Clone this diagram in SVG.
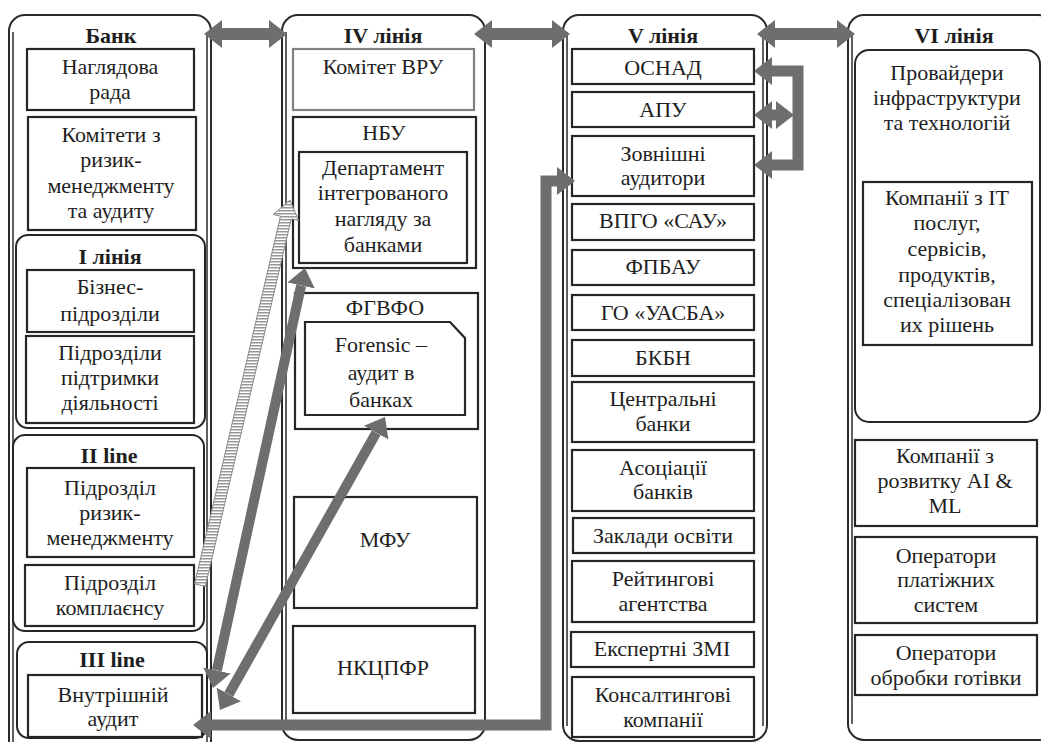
<svg xmlns="http://www.w3.org/2000/svg" width="1041" height="742" viewBox="0 0 1041 742">
<style>
.col{fill:#fff;stroke:#2a2a2a;stroke-width:2}
.dl{stroke:#2a2a2a;stroke-width:1.5}
.box{fill:#fff;stroke:#262626;stroke-width:2.2}
.grp{fill:#fff;stroke:#262626;stroke-width:2}
.t{font-family:"Liberation Serif","Times New Roman",serif;font-size:22px;fill:#1e1e1e;text-anchor:middle}
.b{font-weight:bold}
.ar{fill:none;stroke:#6e6e6e;marker-start:url(#ah);marker-end:url(#ah)}
</style>
<defs>
<marker id="ah" markerUnits="userSpaceOnUse" viewBox="0 0 18 28" markerWidth="18" markerHeight="28" refX="0" refY="14" orient="auto-start-reverse">
<path d="M0,0 L18,14 L0,28 z" fill="#6e6e6e"/>
</marker>
<pattern id="hatch" width="6" height="3" patternUnits="userSpaceOnUse">
<rect width="6" height="3" fill="#fff"/>
<rect width="6" height="1.5" fill="#979797"/>
</pattern>
</defs>
<rect width="1041" height="742" fill="#fff"/>

<g id="col-bank">
<rect class="col" x="9" y="15" width="202" height="760" rx="16"/>
<line class="dl" x1="13" y1="32" x2="13" y2="742"/>
<line class="dl" x1="207" y1="32" x2="207" y2="742"/>
<text class="t b" x="111" y="43">Банк</text>
</g>
<g id="n-naglyad">
<rect class="box" x="27" y="49" width="167" height="61"/>
<text class="t" x="110" y="74">Наглядова</text>
<text class="t" x="110" y="99">рада</text>
</g>
<g id="n-komitety">
<rect class="box" x="28" y="117" width="168" height="113"/>
<text class="t" x="111" y="142">Комітети з</text>
<text class="t" x="111" y="167">ризик-</text>
<text class="t" x="111" y="193">менеджменту</text>
<text class="t" x="111" y="218">та аудиту</text>
</g>
<g id="g-line1">
<rect class="grp" x="16" y="235" width="189" height="193" rx="12"/>
<text class="t b" x="110" y="264">І лінія</text>
</g>
<g id="n-biznes">
<rect class="box" x="27" y="270" width="167" height="62"/>
<text class="t" x="110" y="294">Бізнес-</text>
<text class="t" x="110" y="321">підрозділи</text>
</g>
<g id="n-pidtrymka">
<rect class="box" x="26" y="336" width="168" height="87"/>
<text class="t" x="110" y="360">Підрозділи</text>
<text class="t" x="110" y="385">підтримки</text>
<text class="t" x="110" y="410">діяльності</text>
</g>
<g id="g-line2">
<rect class="grp" x="13" y="435" width="191" height="196" rx="12"/>
<text class="t b" x="109" y="463">II line</text>
</g>
<g id="n-ryzyk">
<rect class="box" x="27" y="468" width="167" height="89"/>
<text class="t" x="110" y="495">Підрозділ</text>
<text class="t" x="110" y="520">ризик-</text>
<text class="t" x="110" y="545">менеджменту</text>
</g>
<g id="n-compliance">
<rect class="box" x="25" y="565" width="169" height="61"/>
<text class="t" x="110" y="590">Підрозділ</text>
<text class="t" x="110" y="615">комплаєнсу</text>
</g>
<g id="g-line3">
<rect class="grp" x="17" y="642" width="190" height="96" rx="12"/>
<text class="t b" x="112" y="667">III line</text>
</g>
<g id="n-audit">
<rect class="box" x="28" y="675" width="174" height="62"/>
<text class="t" x="113" y="702">Внутрішній</text>
<text class="t" x="113" y="726">аудит</text>
</g>

<g id="col-iv">
<rect class="col" x="282" y="15" width="203" height="725" rx="16"/>
<line class="dl" x1="286" y1="32" x2="286" y2="724"/>
<text class="t b" x="383" y="43">IV лінія</text>
</g>
<g id="n-vru">
<rect class="box" x="293" y="49" width="181" height="61" style="stroke:#808080"/>
<text class="t" x="383" y="74">Комітет ВРУ</text>
</g>
<g id="n-nbu">
<rect class="box" x="293" y="117" width="183" height="151"/>
<text class="t" x="384" y="140">НБУ</text>
</g>
<g id="n-dept">
<rect class="box" x="299" y="152" width="168" height="111"/>
<text class="t" x="383" y="175">Департамент</text>
<text class="t" x="383" y="200">інтегрованого</text>
<text class="t" x="383" y="226">нагляду за</text>
<text class="t" x="383" y="252">банками</text>
</g>
<g id="n-fgvfo">
<rect class="box" x="295" y="293" width="183" height="136"/>
<text class="t" x="385" y="315">ФГВФО</text>
</g>
<g id="n-forensic">
<path class="box" d="M305,322 H450 L465,338 V415 H305 Z"/>
<text class="t" x="381" y="352">Forensic –</text>
<text class="t" x="381" y="380">аудит в</text>
<text class="t" x="381" y="407">банках</text>
</g>
<g id="n-mfu">
<rect class="box" x="294" y="497" width="183" height="111"/>
<text class="t" x="385" y="547">МФУ</text>
</g>
<g id="n-nkcpfr">
<rect class="box" x="293" y="626" width="182" height="87"/>
<text class="t" x="383" y="675">НКЦПФР</text>
</g>

<g id="col-v">
<rect class="col" x="563" y="15" width="204" height="726" rx="16"/>
<line class="dl" x1="567" y1="32" x2="567" y2="726"/>
<line class="dl" x1="763" y1="32" x2="763" y2="726"/>
<text class="t b" x="663" y="43">V лінія</text>
</g>
<g id="n-osnad"><rect class="box" x="572" y="49" width="182" height="35"/><text class="t" x="663" y="75">ОСНАД</text></g>
<g id="n-apu"><rect class="box" x="572" y="92" width="182" height="35"/><text class="t" x="663" y="117">АПУ</text></g>
<g id="n-zovn"><rect class="box" x="572" y="136" width="182" height="60"/><text class="t" x="663" y="161">Зовнішні</text><text class="t" x="663" y="185">аудитори</text></g>
<g id="n-vpgo"><rect class="box" x="572" y="204" width="182" height="36"/><text class="t" x="663" y="228">ВПГО «САУ»</text></g>
<g id="n-fpbau"><rect class="box" x="572" y="250" width="182" height="35"/><text class="t" x="663" y="274">ФПБАУ</text></g>
<g id="n-uasba"><rect class="box" x="572" y="295" width="182" height="35"/><text class="t" x="663" y="320">ГО «УАСБА»</text></g>
<g id="n-bkbn"><rect class="box" x="572" y="340" width="182" height="36"/><text class="t" x="663" y="365">БКБН</text></g>
<g id="n-central"><rect class="box" x="572" y="382" width="182" height="60"/><text class="t" x="663" y="406">Центральні</text><text class="t" x="663" y="431">банки</text></g>
<g id="n-asoc"><rect class="box" x="572" y="450" width="182" height="61"/><text class="t" x="663" y="475">Асоціації</text><text class="t" x="663" y="499">банків</text></g>
<g id="n-osvita"><rect class="box" x="573" y="518" width="181" height="35"/><text class="t" x="663" y="543">Заклади освіти</text></g>
<g id="n-reiting"><rect class="box" x="572" y="561" width="182" height="61"/><text class="t" x="663" y="586">Рейтингові</text><text class="t" x="663" y="611">агентства</text></g>
<g id="n-zmi"><rect class="box" x="571" y="632" width="183" height="35"/><text class="t" x="662" y="656">Експертні ЗМІ</text></g>
<g id="n-consult"><rect class="box" x="572" y="677" width="182" height="60"/><text class="t" x="663" y="702">Консалтингові</text><text class="t" x="663" y="727">компанії</text></g>

<g id="col-vi">
<rect class="col" x="848" y="15" width="206" height="725" rx="16"/>
<line class="dl" x1="852" y1="32" x2="852" y2="724"/>
<text class="t b" x="954" y="43">VI лінія</text>
</g>
<g id="g-provaid">
<rect class="grp" x="855" y="50" width="185" height="372" rx="14"/>
<text class="t" x="947" y="80">Провайдери</text>
<text class="t" x="947" y="105">інфраструктури</text>
<text class="t" x="947" y="130">та технологій</text>
</g>
<g id="n-it">
<rect class="box" x="863" y="182" width="169" height="163"/>
<text class="t" x="947" y="205">Компанії з IT</text>
<text class="t" x="947" y="230">послуг,</text>
<text class="t" x="947" y="256">сервісів,</text>
<text class="t" x="947" y="282">продуктів,</text>
<text class="t" x="947" y="307">спеціалізован</text>
<text class="t" x="947" y="332">их рішень</text>
</g>
<g id="n-ai">
<rect class="box" x="855" y="440" width="182" height="86"/>
<text class="t" x="945" y="463">Компанії з</text>
<text class="t" x="945" y="488">розвитку AI &amp;</text>
<text class="t" x="945" y="513">ML</text>
</g>
<g id="n-plat">
<rect class="box" x="855" y="537" width="182" height="86"/>
<text class="t" x="946" y="563">Оператори</text>
<text class="t" x="946" y="587">платіжних</text>
<text class="t" x="946" y="612">систем</text>
</g>
<g id="n-gotivka">
<rect class="box" x="855" y="635" width="182" height="60"/>
<text class="t" x="946" y="660">Оператори</text>
<text class="t" x="946" y="685">обробки готівки</text>
</g>

<g id="connectors">
<line class="ar" x1="222" y1="34" x2="269" y2="34" stroke-width="12"/>
<line class="ar" x1="492" y1="34" x2="552" y2="34" stroke-width="12"/>
<line class="ar" x1="775" y1="34" x2="837" y2="34" stroke-width="12"/>
<path class="ar" d="M772,71 H798 V165 H772" stroke-width="11"/>
<line class="ar" x1="772" y1="115" x2="776" y2="115" stroke-width="11"/>
<path class="ar" d="M211,725 H546 V181 H557" stroke-width="11"/>
<line class="ar" x1="216.9" y1="670.4" x2="301.1" y2="285.6" stroke-width="10"/>
<line class="ar" x1="228.8" y1="694.3" x2="376.2" y2="432.7" stroke-width="10"/>
<polygon points="194.6,583.8 280.5,216.2 273.2,214.5 290,200 298.6,220.5 291.3,218.8 205.4,586.3" fill="url(#hatch)" stroke="#8a8a8a" stroke-width="1"/>
</g>
</svg>
